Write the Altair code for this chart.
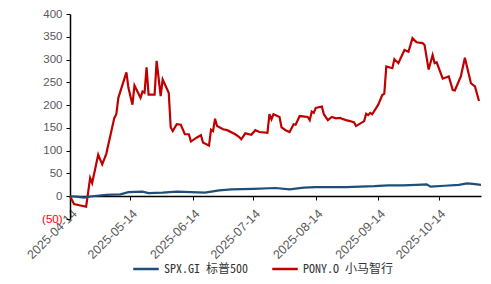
import altair as alt
import pandas as pd

pony_dates = ["2025-04-14","2025-04-16","2025-04-22","2025-04-24","2025-04-25","2025-04-28","2025-04-30","2025-05-02","2025-05-06","2025-05-07",
              "2025-05-08","2025-05-12","2025-05-13","2025-05-15","2025-05-16","2025-05-19","2025-05-20","2025-05-21","2025-05-22","2025-05-23",
              "2025-05-26","2025-05-27","2025-05-29","2025-05-30","2025-06-02","2025-06-03","2025-06-04","2025-06-06","2025-06-08","2025-06-10",
              "2025-06-12","2025-06-13","2025-06-16","2025-06-18","2025-06-19","2025-06-22","2025-06-23","2025-06-24","2025-06-25","2025-06-26",
              "2025-06-29","2025-07-01","2025-07-05","2025-07-07","2025-07-08","2025-07-10","2025-07-13","2025-07-15","2025-07-17","2025-07-21",
              "2025-07-22","2025-07-23","2025-07-24","2025-07-27","2025-07-28","2025-07-30","2025-08-01","2025-08-03","2025-08-04","2025-08-06",
              "2025-08-10","2025-08-11","2025-08-12","2025-08-13","2025-08-14","2025-08-17","2025-08-18","2025-08-20","2025-08-22","2025-08-24",
              "2025-08-26","2025-08-27","2025-08-29","2025-08-31","2025-09-02","2025-09-03","2025-09-06","2025-09-07","2025-09-08","2025-09-09",
              "2025-09-10","2025-09-11","2025-09-14","2025-09-16","2025-09-17","2025-09-18","2025-09-21","2025-09-22","2025-09-24","2025-09-27",
              "2025-09-29","2025-10-01","2025-10-03","2025-10-06","2025-10-07","2025-10-09","2025-10-11","2025-10-12","2025-10-13","2025-10-16",
              "2025-10-19","2025-10-21","2025-10-22","2025-10-25","2025-10-27","2025-10-30","2025-11-01","2025-11-03"]
pony_values = [0,-17,-23,40,29,91,70,93,172,180,
               216,272,238,201,243,216,230,227,283,223,
               223,297,220,256,227,151,143,158,157,136,
               136,120,129,134,118,111,146,143,170,154,
               147,145,136,130,125,138,135,145,141,139,
               180,169,180,174,151,145,141,158,157,176,
               174,167,186,183,194,197,180,167,174,171,
               172,170,167,165,162,154,162,165,181,178,
               183,180,201,222,225,285,281,301,292,321,
               317,347,338,336,332,278,310,292,294,258,
               263,233,232,263,304,248,241,209]

spx_dates = ["2025-04-14","2025-04-17","2025-04-21","2025-04-25","2025-05-02","2025-05-09","2025-05-13","2025-05-20","2025-05-23","2025-05-30",
             "2025-06-06","2025-06-13","2025-06-20","2025-06-27","2025-07-03","2025-07-14","2025-07-25","2025-08-01","2025-08-08","2025-08-14",
             "2025-08-22","2025-08-29","2025-09-05","2025-09-12","2025-09-19","2025-09-26","2025-10-03","2025-10-08","2025-10-10","2025-10-17",
             "2025-10-24","2025-10-28","2025-10-31","2025-11-04"]
spx_values = [0,-1,-3,0,3,4,9,10,7,8,
              10,9,8,13,15,16,18,15,19,20,
              20,20,21,22,24,24,25,26,21,23,
              25,28,27,25]

series_names = ["SPX.GI 标普500", "PONY.O 小马智行"]
series_colors = ["#1F4E79", "#C00000"]
y_ticks = [-50, 0, 50, 100, 150, 200, 250, 300, 350, 400]
x_tick_months = [4, 5, 6, 7, 8, 9, 10]

df = pd.concat([
    pd.DataFrame({"date": pony_dates, "value": pony_values, "series": series_names[1], "order": 1}),
    pd.DataFrame({"date": spx_dates, "value": spx_values, "series": series_names[0], "order": 0}),
])

x_vals = [alt.DateTime(year=2025, month=m, date=14, utc=True) for m in x_tick_months]

plot_h = 205
zero_offset = -round(plot_h * 50 / 450)

chart = alt.Chart(df).mark_line(strokeWidth=2.2).encode(
    x=alt.X("date:T",
            scale=alt.Scale(type="utc",
                            domain=[alt.DateTime(year=2025, month=4, date=14, utc=True),
                                    alt.DateTime(year=2025, month=11, date=4, utc=True)]),
            axis=alt.Axis(values=x_vals, format="%Y-%m-%d", labelAngle=-45, offset=zero_offset,
                          tickSize=4, tickColor="black", domainColor="black", domainWidth=1.5,
                          labelColor="#595959", labelFontSize=12.5, labelFont="Liberation Sans",
                          labelPadding=7, grid=False, title=None, labelOverlap=False)),
    y=alt.Y("value:Q",
            scale=alt.Scale(domain=[-50, 400], nice=False, zero=False),
            axis=alt.Axis(values=y_ticks, tickSize=4, tickColor="black", domainColor="black",
                          domainWidth=1.5, labelFontSize=11.5, labelFont="Liberation Sans",
                          labelColor={"condition": {"test": "datum.value < 0", "value": "#FF0000"}, "value": "#595959"},
                          labelExpr="datum.value < 0 ? '(' + format(-datum.value, 'd') + ')' : format(datum.value, 'd')",
                          labelPadding=4, grid=False, title=None)),
    color=alt.Color("series:N",
                    scale=alt.Scale(domain=series_names, range=series_colors),
                    legend=alt.Legend(orient="none", legendX=62, legendY=241, direction="horizontal",
                                      title=None, symbolType="stroke", symbolSize=650, symbolStrokeWidth=2.5,
                                      labelFontSize=12, labelColor="#333333",
                                      labelFont="Noto Sans Mono CJK SC, DejaVu Sans Mono, monospace",
                                      columnPadding=18, labelOffset=4, padding=0)),
    order=alt.Order("order:Q"),
).properties(
    width=411, height=plot_h,
    autosize=alt.AutoSizeParams(type="none"),
    padding={"left": 62, "top": 6, "right": 2, "bottom": 57},
).configure_view(stroke=None)

chart.save("out.html", embed_options={"renderer": "svg", "actions": False})
